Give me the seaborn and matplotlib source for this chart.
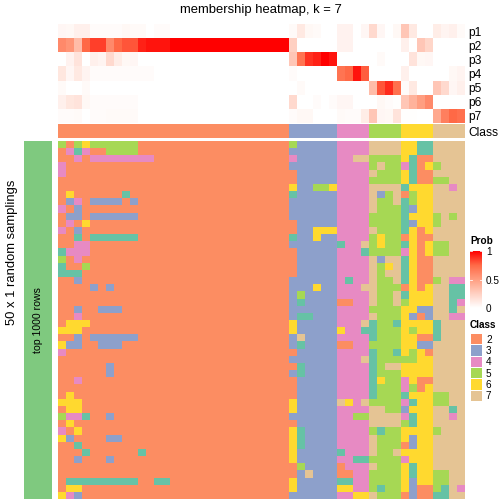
#!/usr/bin/env python3
# membership heatmap, k = 7
import numpy as np
import matplotlib
matplotlib.use("Agg")
import matplotlib.pyplot as plt
from matplotlib.colors import ListedColormap, LinearSegmentedColormap
import seaborn as sns

plt.rcParams['font.family'] = ['Liberation Sans', 'DejaVu Sans']

row_labels = ["p1", "p2", "p3", "p4", "p5", "p6", "p7"]
class_labels = ["2", "3", "4", "5", "6", "7"]
class_sizes = [29, 6, 4, 4, 4, 4]

#class colours, 1 shows up in the samplings only
class_colors = ["#66C2A5", "#FC8D62", "#8DA0CB", "#E78AC3", "#A6D854", "#FFD92F", "#E5C494"]

#membership: first 14 columns, then the 14 flat ones, then the last 23
p1_left = [.05, .04, .08, .08, .02, .02, .02, .02, .04, .03, .03, 0, .02, .02]
p1_right = [0, .03, .12, .04, .03, 0, 0, .07, .07, 0, .05, .2, .05, 0, .04, .3, .12, 0, 0, .1, .06, .08, .03]
p2_left = [.6, .55, .35, .75, .85, .85, .6, .75, .8, .8, .92, .95, .95, .95]
p2_right = [1, .25, 0, 0, 0, 0, 0, .07, .07, 0, 0, 0, 0, 0, 0, .08, 0, .3, .22, 0, 0, 0, 0]
p3_left = [0, .07, .15, 0, .08, .06, .2, .1, .04, .05, 0, 0, 0, 0]
p3_right = [0, .3, .7, .88, .92, 1, .95, 0, 0, 0, 0, 0, .03, 0, 0, 0, .15, .04, .05, 0, 0, 0, 0]
p4_left = [.13, .05, .12, .06, .02, .02, .02, .02, .02, .02, .02, .02, 0, 0]
p4_right = [0, .02, 0, 0, 0, 0, 0, .7, .75, .95, .78, 0, 0, 0, 0, .08, 0, 0, 0, 0, 0, .04, .06]
p5_left = [.03, 0, 0, .03, 0, 0, 0, 0, 0, 0, 0, 0, 0, 0]
p5_right = [0, 0, .03, 0, 0, 0, 0, 0, 0, 0, 0, .35, .8, .9, .72, .02, .12, 0, 0, .3, .2, .05, .08]
p6_left = [.08, .13, .15, .04, .02, .02, .02, .02, .02, .02, 0, 0, 0, 0]
p6_right = [0, .2, 0, 0, .02, 0, .02, .05, .05, 0, 0, 0, .04, .02, .01, .3, .4, .5, .6, 0, 0, 0, 0]
p7_left = [.02, .02, .03, 0, .02, .02, .03, .03, .03, .03, 0, 0, 0, 0]
p7_right = [0, .02, .04, .04, 0, 0, 0, .03, .02, .02, .1, .3, .05, .04, .15, .01, .01, 0, 0, .45, .65, .75, .72]
p2_middle = [1] * 14
other_middle = [0] * 14

#samplings, one string per row, first 14 columns
sampling_left = [
    "52565555552222", "24142255552222", "22424444444422", "42222222222222", "42222222222222",
    "22222222222222", "22222222222222", "26222222122222", "23423333232222", "42322222222222",
    "23323333332222", "24262222222222", "42322222222222", "22121111112222", "22442222222222",
    "14442222222222", "52422222222222", "12252222222222", "11122222222222", "22322222222222",
    "22223232222222", "22222222222222", "22222222222222", "22322333222222", "22422222222222",
    "26662222222222", "66622222222222", "22323333332222", "63322333222222", "42222222222222",
    "22222222222222", "22222232222222", "22222232222222", "22422222222222", "22222222222222",
    "26222222222222", "66622222222222", "26622222222222", "54412232222222", "26222222222222",
    "42622222222222", "63222233222222", "22122222222222", "22212222221222", "22322232222222",
    "22222222222222", "22222222222222", "21111111112211", "26622222222222", "64322222222222",
]
#columns 14 to 27 are class 2 in every row
sampling_middle = "2" * 14
#last 23 columns
sampling_right = [
    "25333334444777766117777", "23333334444777766117777", "24333334477555561227777", "23333334444575541265777",
    "22333334444755561227777", "22333334444555561225577", "26335564444777716667747", "21333334444735725667777",
    "23333334444755715667777", "23333334444755513667777", "23333334444555516665757", "22333334444555513665777",
    "22336664444755516267777", "21336334444565526227777", "23333331447565516265577", "22333334441555546265577",
    "22333334444737716227777", "22333334444756716227777", "22333334444757716227777", "23333334144755716225744",
    "23336334447755526267711", "23533334444755716667711", "23133332244755756667714", "23333334444555566337717",
    "23113334444755563237744", "26333334447155166661777", "26333336441155565661777", "23733334444155566221777",
    "23133332244555566337777", "22333334444155165627777", "23333334447155555667777", "22133334444157766667777",
    "23133334444155566667777", "22333334444165546227777", "22333334444155545267777", "22333334444155516665577",
    "26333337647555541665577", "26333334444775536667717", "23333334455777741667747", "22333334444777751667777",
    "26133334444515566665777", "26133334444755563667777", "26133334444755523667777", "26333331444755766667777",
    "26333334411555546667777", "22533332444755561667777", "22373332244555561665577", "26333331144555563665577",
    "26333336644515563225174", "23333334466755523221177",
]

prob = np.array([
    p1_left + other_middle + p1_right,
    p2_left + p2_middle + p2_right,
    p3_left + other_middle + p3_right,
    p4_left + other_middle + p4_right,
    p5_left + other_middle + p5_right,
    p6_left + other_middle + p6_right,
    p7_left + other_middle + p7_right,
])
samplings = np.array([[int(c) for c in left + sampling_middle + right]
                      for left, right in zip(sampling_left, sampling_right)])
class_row = np.repeat([int(c) for c in class_labels], class_sizes).reshape(1, -1)

#white to red, stepped through lab like circlize does it
prob_cmap = LinearSegmentedColormap.from_list(
    "prob", ["#FFFFFF", "#FFD0C2", "#FF9E81", "#FF6A47", "#FF0000"])
class_cmap = ListedColormap(class_colors)

W, H = 504, 504


def box(x0, y0, x1, y1):
    #pixel box, y from the top of the picture
    return fig.add_axes([x0 / W, 1 - y1 / H, (x1 - x0) / W, (y1 - y0) / H])


fig = plt.figure(figsize=(7, 7), dpi=72)
fig.patch.set_facecolor("white")

#membership rows, legend bar goes in with them
ax_prob = box(58, 24, 465, 123)
ax_bar = box(470, 251, 482, 308)
sns.heatmap(prob, ax=ax_prob, cmap=prob_cmap, vmin=0, vmax=1, xticklabels=False,
            yticklabels=row_labels, cbar_ax=ax_bar)
ax_prob.yaxis.tick_right()
ax_prob.tick_params(axis="y", length=0, pad=3, labelsize=12, labelrotation=0)

cbar = ax_prob.collections[0].colorbar
cbar.set_ticks([0, 0.5, 1])
cbar.set_ticklabels(["0", "0.5", "1"])
cbar.ax.tick_params(length=0, pad=4, labelsize=10)
cbar.outline.set_visible(False)
for tick_y in [0.5, 1]:
    ax_bar.plot([0, 0.2], [tick_y, tick_y], color="white", lw=0.8, transform=ax_bar.get_yaxis_transform())
    ax_bar.plot([0.8, 1], [tick_y, tick_y], color="white", lw=0.8, transform=ax_bar.get_yaxis_transform())

#class strip
ax_class = box(58, 124, 465, 138)
sns.heatmap(class_row, ax=ax_class, cmap=class_cmap, vmin=0.5, vmax=7.5, cbar=False,
            xticklabels=False, yticklabels=["Class"])
ax_class.yaxis.tick_right()
ax_class.tick_params(axis="y", length=0, pad=3, labelsize=12, labelrotation=0)

#the samplings
ax_main = box(58, 141, 465, 499)
sns.heatmap(samplings, ax=ax_main, cmap=class_cmap, vmin=0.5, vmax=7.5, cbar=False,
            xticklabels=False, yticklabels=False)

#green bar on the left
ax_left = box(24, 141, 52, 499)
sns.heatmap(np.ones((1, 1)), ax=ax_left, cmap=ListedColormap(["#7FC97F"]), cbar=False,
            xticklabels=False, yticklabels=False)
ax_left.text(0.5, 0.5, "top 1000 rows", rotation=90, ha="center", va="center", fontsize=10.5,
             transform=ax_left.transAxes)

fig.text(12 / W, 1 - 252 / H, "50 x 1 random samplings", rotation=90, ha="center", va="center", fontsize=13)
fig.text(261 / W, 1 - 10 / H, "membership heatmap, k = 7", ha="center", va="center", fontsize=13)

#legends
fig.text(470 / W, 1 - 241 / H, "Prob", ha="left", va="center", fontsize=10, fontweight="bold")
fig.text(470 / W, 1 - 325 / H, "Class", ha="left", va="center", fontsize=10, fontweight="bold")

ax_key = box(470, 333, 482, 401)
sns.heatmap(np.array([[int(c)] for c in class_labels]), ax=ax_key, cmap=class_cmap, vmin=0.5, vmax=7.5,
            cbar=False, xticklabels=False, yticklabels=class_labels, linewidths=1, linecolor="white")
ax_key.yaxis.tick_right()
ax_key.tick_params(axis="y", length=0, pad=4, labelsize=10, labelrotation=0)

fig.savefig("out.png", dpi=72)
